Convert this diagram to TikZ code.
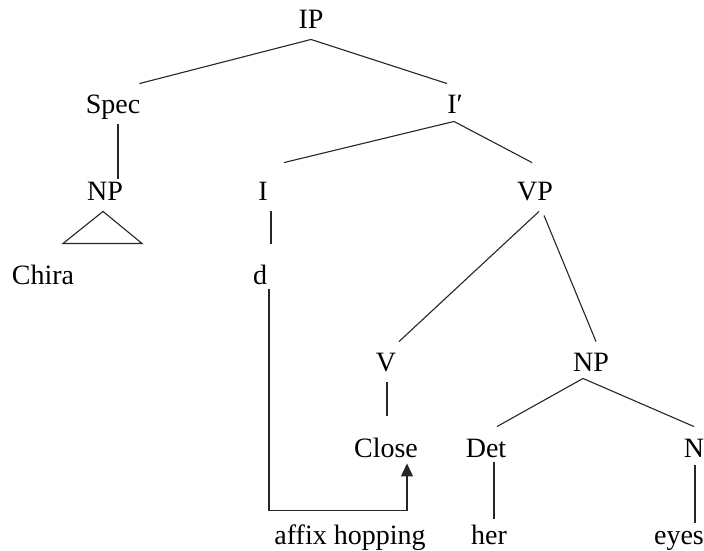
\documentclass[tikz,border=0pt]{standalone}
\usepackage{fontspec}
\setmainfont{Liberation Serif}
\usetikzlibrary{arrows.meta}
\begin{document}
\begin{tikzpicture}[x=1pt,y=-1pt,
  lab/.style={font=\fontsize{28}{31}\selectfont, inner xsep=0pt, inner ysep=11pt, text height=18.5pt, text depth=0pt},
  edge/.style={line width=1.1pt, draw=black!85}]
\useasboundingbox (0,0) rectangle (704,550);
\fill[white] (0,0) rectangle (704,550);
% nodes
\node[lab] (IP)   at (311,19)  {IP};
\node[lab] (Spec) at (113,104) {Spec};
\node[lab] (Ibar) at (455,104) {I′};
\node[lab] (NPa)  at (105,191) {NP};
\node[lab] (I)    at (263,191) {I};
\node[lab] (VP)   at (535,191) {VP};
\node[lab] (Chira) at (43,275) {Chira};
\node[lab] (d)    at (260,275) {d};
\node[lab] (V)    at (386,362) {V};
\node[lab] (NPb)  at (591,362) {NP};
\node[lab] (Close) at (386,448) {Close};
\node[lab] (Det)  at (486,448) {Det};
\node[lab] (N)    at (694,448) {N};
\node[lab] (affix) at (350,535) {affix hopping};
\node[lab] (her)  at (489,535) {her};
\node[lab] (eyes) at (679,535) {eyes};
% edges
\draw[edge] (IP.south) -- ([xshift=-1pt]Spec.north east);
\draw[edge] (IP.south) -- ([xshift=-8pt]Ibar.north);
\draw[edge] ([xshift=5pt]Spec.south) -- ([xshift=13pt,yshift=-8pt]NPa.north);
\draw[edge] ([xshift=-1pt,yshift=3pt]Ibar.south) -- ([xshift=21pt,yshift=8pt]I.north);
\draw[edge] ([xshift=-1pt,yshift=3pt]Ibar.south) -- ([xshift=-3pt,yshift=8pt]VP.north);
\draw[edge] ([xshift=-2pt]NPa.south) -- ++(-40,32) -- ++(79,0) -- cycle;
\draw[edge] ([xshift=8pt]I.south) -- ([xshift=11pt,yshift=11pt]d.north);
\draw[edge,-{Triangle[width=12pt,length=13pt]}] ([xshift=9pt,yshift=6pt]d.south) -- ++(0,221) -| ([xshift=21pt,yshift=5pt]Close.south);
\draw[edge] ([xshift=4pt]VP.south) -- ([xshift=13pt]V.north);
\draw[edge] ([xshift=9pt,yshift=-4pt]VP.south) -- ([xshift=5pt]NPb.north);
\draw[edge] ([xshift=1pt]V.south) -- ([xshift=1pt,yshift=12pt]Close.north);
\draw[edge] ([xshift=-8pt,yshift=4pt]NPb.south) -- ([xshift=11pt,yshift=1pt]Det.north);
\draw[edge] ([xshift=-8pt,yshift=4pt]NPb.south) -- ([xshift=0pt,yshift=1pt]N.north);
\draw[edge] ([xshift=8pt,yshift=6pt]Det.south) -- ([xshift=5pt,yshift=-4pt]her.north);
\draw[edge] ([xshift=1pt,yshift=3pt]N.south) -- ([xshift=16pt,yshift=-8pt]eyes.north);
\end{tikzpicture}
\end{document}
